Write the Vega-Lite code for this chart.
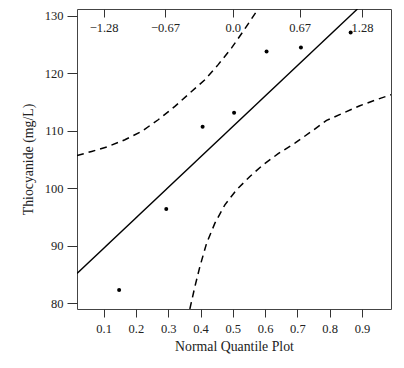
{
  "$schema": "https://vega.github.io/schema/vega-lite/v6.json",
  "width": 314,
  "height": 300,
  "autosize": "none",
  "padding": {"left": 77, "top": 9, "right": 13, "bottom": 59},
  "background": "white",
  "config": {
    "view": {"stroke": "#444", "strokeWidth": 1},
    "font": "Liberation Serif",
    "axis": {
      "labelFont": "Liberation Serif",
      "titleFont": "Liberation Serif",
      "labelFontSize": 12.5,
      "titleFontSize": 13.8,
      "titleFontWeight": "normal",
      "labelColor": "#222",
      "titleColor": "#222",
      "tickColor": "#333",
      "domainColor": "#555",
      "grid": false
    }
  },
  "datasets": {
    "pts": [
      {"p": 0.148, "y": 82.3},
      {"p": 0.294, "y": 96.4},
      {"p": 0.4065, "y": 110.7},
      {"p": 0.504, "y": 113.15},
      {"p": 0.6046, "y": 123.8},
      {"p": 0.711, "y": 124.5},
      {"p": 0.865, "y": 127.1}
    ],
    "fit": [
      {"p": 0.0175, "y": 85.2},
      {"p": 0.886, "y": 131.2}
    ],
    "upper": [
      {"p": 0.0175, "y": 105.7},
      {"p": 0.0628, "y": 106.41},
      {"p": 0.1142, "y": 107.28},
      {"p": 0.1659, "y": 108.45},
      {"p": 0.2176, "y": 109.9},
      {"p": 0.269, "y": 111.93},
      {"p": 0.3207, "y": 114.25},
      {"p": 0.3672, "y": 116.59},
      {"p": 0.4137, "y": 118.9},
      {"p": 0.4548, "y": 121.52},
      {"p": 0.4963, "y": 124.43},
      {"p": 0.532, "y": 127.3},
      {"p": 0.5737, "y": 130.8},
      {"p": 0.579, "y": 131.2}
    ],
    "lower": [
      {"p": 0.367, "y": 79.0},
      {"p": 0.3826, "y": 82.89},
      {"p": 0.3981, "y": 86.38},
      {"p": 0.4189, "y": 90.45},
      {"p": 0.4446, "y": 93.94},
      {"p": 0.4755, "y": 97.13},
      {"p": 0.5118, "y": 99.74},
      {"p": 0.553, "y": 102.06},
      {"p": 0.5941, "y": 104.1},
      {"p": 0.6406, "y": 106.02},
      {"p": 0.6923, "y": 107.87},
      {"p": 0.744, "y": 109.9},
      {"p": 0.7904, "y": 111.81},
      {"p": 0.8418, "y": 113.1},
      {"p": 0.8935, "y": 114.37},
      {"p": 0.9452, "y": 115.42},
      {"p": 0.99, "y": 116.3}
    ]
  },
  "layer": [
    {
      "data": {"name": "upper"},
      "mark": {"type": "line", "color": "black", "strokeWidth": 1.5, "strokeDash": [7, 5], "clip": true},
      "encoding": {
        "x": {"field": "p", "type": "quantitative",
              "scale": {"domain": [0.0175, 0.99], "nice": false, "zero": false},
              "axis": {"orient": "bottom", "values": [0.1, 0.2, 0.3, 0.4, 0.5, 0.6, 0.7, 0.8, 0.9],
                       "format": ".1f", "tickSize": 8, "labelPadding": 5, "title": "Normal Quantile Plot",
                       "titlePadding": 5, "domain": false}},
        "y": {"field": "y", "type": "quantitative",
              "scale": {"domain": [79, 131.2], "nice": false, "zero": false},
              "axis": {"values": [80, 90, 100, 110, 120, 130], "tickSize": 10, "labelPadding": 4,
                       "title": "Thiocyanide (mg/L)", "titlePadding": 9, "domain": false}}
      }
    },
    {
      "data": {"name": "lower"},
      "mark": {"type": "line", "color": "black", "strokeWidth": 1.5, "strokeDash": [7, 5], "clip": true},
      "encoding": {
        "x": {"field": "p", "type": "quantitative", "axis": null},
        "y": {"field": "y", "type": "quantitative"}
      }
    },
    {
      "data": {"name": "fit"},
      "mark": {"type": "line", "color": "black", "strokeWidth": 1.4, "clip": true},
      "encoding": {
        "x": {"field": "p", "type": "quantitative", "axis": null},
        "y": {"field": "y", "type": "quantitative"}
      }
    },
    {
      "data": {"name": "pts"},
      "mark": {"type": "circle", "color": "black", "opacity": 1, "size": 16},
      "encoding": {
        "x": {"field": "p", "type": "quantitative",
              "axis": {"orient": "top", "values": [0.1, 0.29, 0.5, 0.707, 0.9],
                       "labelExpr": "datum.value < 0.2 ? '\u22121.28' : datum.value < 0.4 ? '\u22120.67' : datum.value < 0.6 ? '0.0' : datum.value < 0.8 ? '0.67' : '1.28'",
                       "tickSize": -8, "labelPadding": -17, "title": null, "domain": false}},
        "y": {"field": "y", "type": "quantitative"}
      }
    }
  ],
  "resolve": {"axis": {"x": "independent"}}
}
